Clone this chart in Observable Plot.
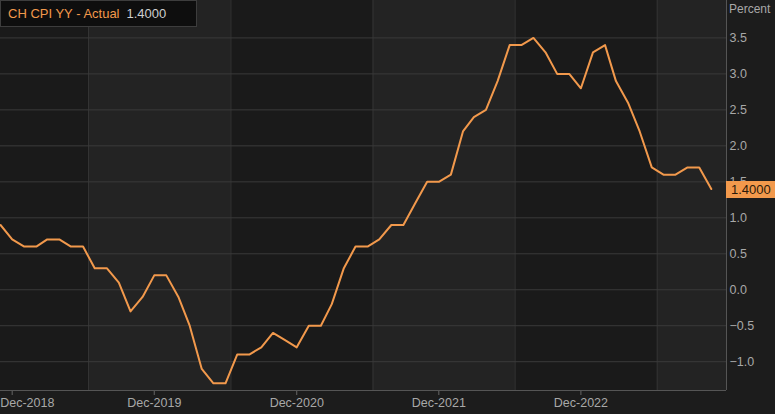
<!DOCTYPE html>
<html>
<head>
<meta charset="utf-8">
<script src="https://cdn.jsdelivr.net/npm/d3@7"></script>
<script src="https://cdn.jsdelivr.net/npm/@observablehq/plot@0.6"></script>
<style>
  html, body { margin: 0; padding: 0; background: #1c1c1c; }
  #wrap { position: relative; width: 775px; height: 414px; background: #1c1c1c; overflow: hidden; font-family: "Liberation Sans", Arial, sans-serif; }
  .ov { position: absolute; white-space: nowrap; }
</style>
</head>
<body>
<div id="wrap"></div>
<script>
// ---- data ----
const seriesName = "CH CPI YY - Actual";
const firstMonth = "2018-11"; // first observation (monthly)
const values = [
  0.9, 0.7,
  0.6, 0.6, 0.7, 0.7, 0.6, 0.6, 0.3, 0.3, 0.1, -0.3, -0.1, 0.2,
  0.2, -0.1, -0.5, -1.1, -1.3, -1.3, -0.9, -0.9, -0.8, -0.6, -0.7, -0.8,
  -0.5, -0.5, -0.2, 0.3, 0.6, 0.6, 0.7, 0.9, 0.9, 1.2, 1.5, 1.5,
  1.6, 2.2, 2.4, 2.5, 2.9, 3.4, 3.4, 3.5, 3.3, 3.0, 3.0, 2.8,
  3.3, 3.4, 2.9, 2.6, 2.2, 1.7, 1.6, 1.6, 1.7, 1.7, 1.4
];
const xTickDates = ["2018-12-01", "2019-12-01", "2020-12-01", "2021-12-01", "2022-12-01"];
const yTicks = [-1.0, -0.5, 0.0, 0.5, 1.0, 1.5, 2.0, 2.5, 3.0, 3.5];
const xDomain = ["2018-11-01", "2023-12-10"];
const yDomain = [-1.4, 4.02];
const bandEdges = ["2019-06-15", "2020-06-15", "2021-06-15", "2022-06-15", "2023-06-15"];
const lightBands = [
  {start: "2019-06-15", end: "2020-06-15"},
  {start: "2021-06-15", end: "2022-06-15"},
  {start: "2023-06-15", end: "2023-12-10"}
];
const lastValue = 1.4;

// ---- build ----
const parse = d3.utcParse("%Y-%m-%d");
const start = d3.utcParse("%Y-%m")(firstMonth);
const data = values.map((v, i) => ({date: d3.utcMonth.offset(start, i), value: v}));
const xTicks = xTickDates.map(parse);
const bands = lightBands.map(b => ({start: parse(b.start), end: parse(b.end)}));
const edges = bandEdges.map(parse);
const xd = xDomain.map(parse);
const fmtX = d3.utcFormat("%b-%Y");

const TXT = "#a8a8a8";
const chart = Plot.plot({
  width: 775,
  height: 414,
  marginLeft: 0,
  marginRight: 49,
  marginTop: 0,
  marginBottom: 24,
  style: {background: "#1c1c1c", color: TXT, fontFamily: "'Liberation Sans', Arial, sans-serif", fontSize: "12px"},
  x: {type: "utc", domain: xd},
  y: {domain: yDomain},
  marks: [
    Plot.rect([{}], {x1: xd[0], x2: xd[1], y1: yDomain[0], y2: yDomain[1], fill: "#1a1a1a"}),
    Plot.rect(bands, {x1: "start", x2: "end", y1: yDomain[0], y2: yDomain[1], fill: "#232323"}),
    Plot.ruleX(edges, {stroke: "#343434", strokeWidth: 1}),
    Plot.gridY(yTicks, {stroke: "#3a3a3a", strokeOpacity: 1}),
    Plot.axisY(yTicks, {anchor: "right", tickSize: 0, tickPadding: 3, tickFormat: d3.format(".1f"), label: null, fill: TXT, fontSize: 12.5}),
    Plot.axisX(xTicks, {tickSize: 5, tickFormat: () => "", stroke: "#666", label: null}),
    Plot.text(xTicks.slice(1), {x: d => d, frameAnchor: "bottom", dy: 16, text: d => fmtX(d), fill: TXT, fontSize: 12.5}),
    Plot.text(xTicks.slice(0, 1), {x: d => d, frameAnchor: "bottom", dy: 16, dx: -12, textAnchor: "start", text: d => fmtX(d), fill: TXT, fontSize: 12.5}),
    Plot.ruleY([yDomain[0]], {stroke: "#555"}),
    Plot.ruleX([xd[1]], {stroke: "#555"}),
    Plot.line(data, {x: "date", y: "value", stroke: "#f2994c", strokeWidth: 2})
  ]
});

const wrap = document.getElementById("wrap");
wrap.appendChild(chart);

// overlays: legend box, axis unit, last-value tag
const legend = document.createElement("div");
legend.className = "ov";
legend.style.cssText = "left:0;top:0;width:197px;height:27px;box-sizing:border-box;background:#0e0e0e;border:1px solid #3d3d3d;font-size:13px;line-height:25px;padding-left:7px;";
legend.innerHTML = `<span style="color:#f2994c">${seriesName}</span><span style="color:#cfcfcf;margin-left:7px">${lastValue.toFixed(4)}</span>`;
wrap.appendChild(legend);

const unit = document.createElement("div");
unit.className = "ov";
unit.style.cssText = `left:729px;top:2px;font-size:12px;color:${TXT};`;
unit.textContent = "Percent";
wrap.appendChild(unit);

const ys = chart.scale("y");
const yPix = ys.apply(lastValue);
const tag = document.createElement("div");
tag.className = "ov";
tag.style.cssText = `left:726px;top:${yPix - 8}px;width:49px;height:17px;background:#f2994c;color:#2b1a0a;font-size:13px;line-height:17px;padding-left:5px;box-sizing:border-box;`;
tag.textContent = lastValue.toFixed(4);
wrap.appendChild(tag);
</script>
</body>
</html>
